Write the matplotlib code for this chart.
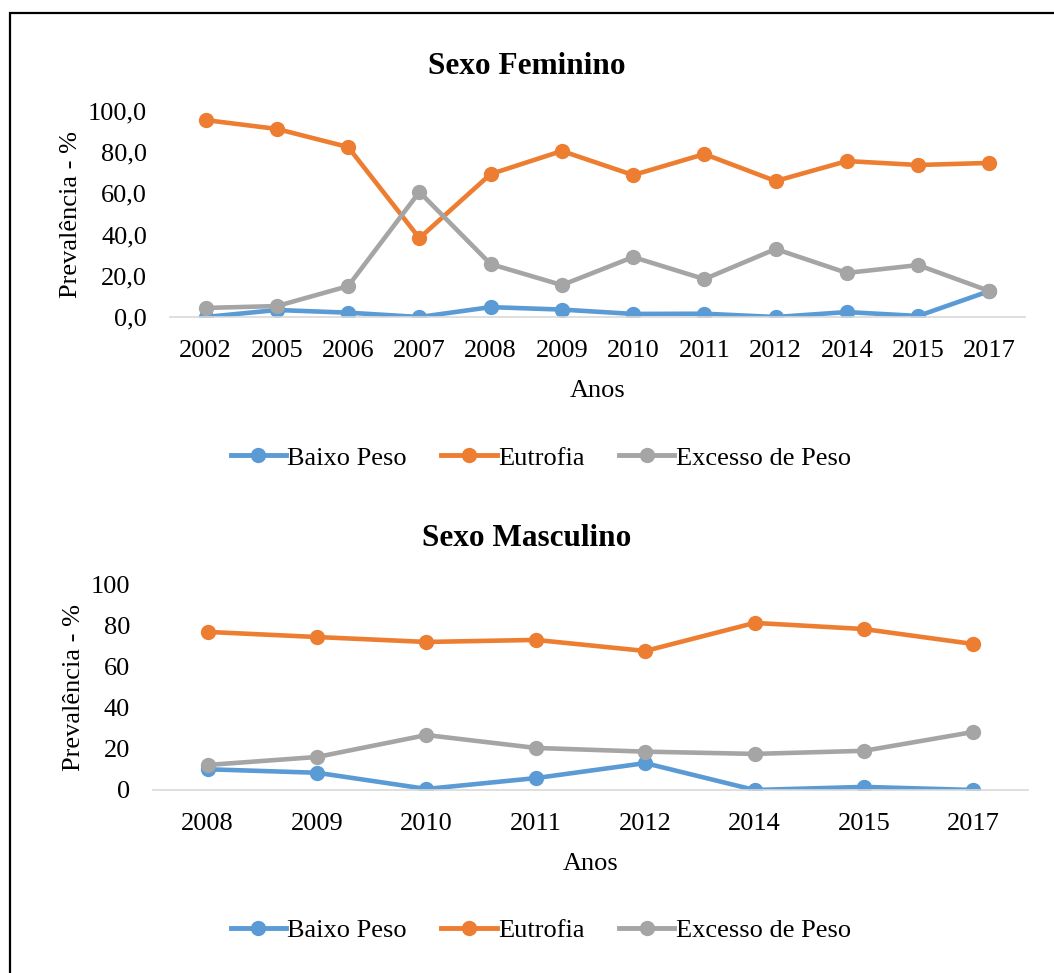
import matplotlib.pyplot as plt
from matplotlib.lines import Line2D

plt.rcParams['font.family'] = ['Liberation Serif', 'DejaVu Serif']

anos_fem = ['2002', '2005', '2006', '2007', '2008', '2009', '2010', '2011', '2012', '2014', '2015', '2017']
baixo_fem = [0.0, 3.4, 2.1, 0.0, 4.8, 3.6, 1.5, 1.6, 0.0, 2.4, 0.5, 12.6]
eutrofia_fem = [95.6, 91.3, 82.5, 38.3, 69.4, 80.6, 68.9, 79.1, 66.0, 75.7, 73.8, 74.8]
excesso_fem = [4.4, 5.3, 15.0, 60.7, 25.7, 15.5, 29.1, 18.4, 33.0, 21.4, 25.2, 12.6]

anos_masc = ['2008', '2009', '2010', '2011', '2012', '2014', '2015', '2017']
baixo_masc = [10.1, 8.4, 0.5, 5.8, 13.1, 0.0, 1.5, 0.0]
eutrofia_masc = [77.1, 74.6, 72.2, 73.2, 67.8, 81.5, 78.5, 71.2]
excesso_masc = [12.2, 16.1, 26.8, 20.5, 18.7, 17.6, 19.1, 28.3]

series_names = ['Baixo Peso', 'Eutrofia', 'Excesso de Peso']
colors = ['#5B9BD5', '#ED7D31', '#A5A5A5']

fig = plt.figure(figsize=(10.54, 9.73), dpi=100)

# moldura (so topo e lado esquerdo aparecem no recorte)
fig.add_artist(Line2D([0.0095, 0.0095, 1.0], [0.0, 1 - 13 / 973, 1 - 13 / 973],
                      transform=fig.transFigure, color='black', linewidth=1.6,
                      solid_joinstyle='miter'))


def draw_panel(rect, cats, data, title, ytick_fmt, title_y, legend_y):
    ax = fig.add_axes(rect)
    x = list(range(len(cats)))
    for vals, c in zip(data, colors):
        ax.plot(x, vals, color=c, linewidth=3.3, marker='o', markersize=10,
                solid_capstyle='round', solid_joinstyle='round')
    ax.set_xlim(-0.5, len(cats) - 0.5)
    ax.set_ylim(0, 100)
    ax.set_yticks([0, 20, 40, 60, 80, 100])
    ax.set_yticklabels([ytick_fmt(v) for v in [0, 20, 40, 60, 80, 100]])
    ax.set_xticks(x)
    ax.set_xticklabels(cats)
    ax.tick_params(length=0, labelsize=19)
    ax.tick_params(axis='y', pad=16.5)
    ax.tick_params(axis='x', pad=16.5)
    for s in ['top', 'right', 'left']:
        ax.spines[s].set_visible(False)
    ax.spines['bottom'].set_color('#D9D9D9')
    ax.spines['bottom'].set_linewidth(1.2)
    ax.set_xlabel('Anos', fontsize=19, labelpad=13)
    ax.set_ylabel('Prevalência - %', fontsize=19, labelpad=4)
    fig.text(0.5, title_y, title, ha='center', va='center', fontsize=22.5, fontweight='bold')
    handles = [Line2D([0], [0], color=c, linewidth=3.5, marker='o', markersize=10)
               for c in colors]
    fig.legend(handles, series_names, loc='center', bbox_to_anchor=(0.513, legend_y),
               ncol=3, frameon=False, fontsize=19, handlelength=2.1,
               handletextpad=0.05, columnspacing=1.3)
    return ax


draw_panel([0.1613, 0.6742, 0.8112, 0.2117], anos_fem,
           [baixo_fem, eutrofia_fem, excesso_fem], 'Sexo Feminino',
           lambda v: f'{v:.1f}'.replace('.', ','), 1 - 66 / 973, 1 - 458 / 973)
draw_panel([0.1452, 0.1881, 0.8302, 0.2107], anos_masc,
           [baixo_masc, eutrofia_masc, excesso_masc], 'Sexo Masculino',
           lambda v: f'{v:d}', 1 - 538 / 973, 1 - 930 / 973)

fig.savefig('out.png', dpi=100)
